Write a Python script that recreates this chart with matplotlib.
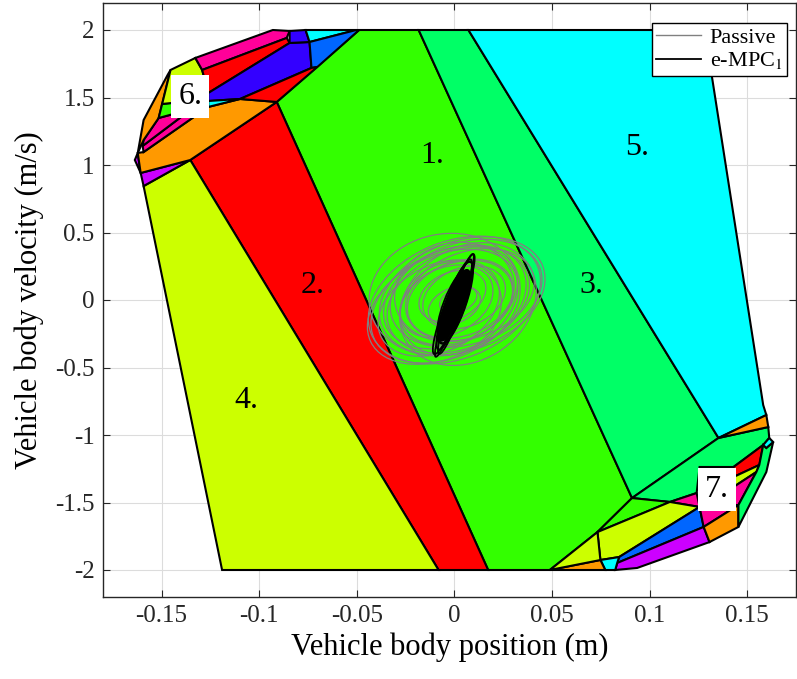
import numpy as np
import matplotlib.pyplot as plt
from matplotlib.patches import Polygon, Ellipse
from matplotlib.lines import Line2D
from matplotlib.transforms import Affine2D

plt.rcParams['font.family'] = ['Liberation Serif', 'DejaVu Serif']
plt.rcParams['mathtext.fontset'] = 'stix'
plt.rcParams['axes.unicode_minus'] = False

# Colours of the explicit-MPC regions
GREEN, SPRING, CYAN, RED = '#33ff00', '#00ff66', '#00ffff', '#ff0000'
YELLOW, ORANGE, MAGENTA = '#ccff00', '#ff9900', '#ff0099'
BLUE, AZURE, PURPLE = '#3300ff', '#0066ff', '#cc00ff'

# Region vertices (position m, velocity m/s)
region1 = [(-0.0488, 2), (-0.0183, 2), (0.0910, -1.467), (0.0733, -1.719),
           (0.0489, -2), (0.0173, -2), (-0.0910, 1.467)]
region2 = [(-0.1353, 1.037), (-0.0910, 1.467), (0.0173, -2), (-0.0081, -2)]
region3 = [(-0.0183, 2), (0.0072, 2), (0.1353, -1.022), (0.0910, -1.467)]
region4 = [(-0.1592, 0.844), (-0.1353, 1.037), (-0.0081, -2), (-0.1190, -2)]
region5 = [(0.0072, 2), (0.1282, 2), (0.1582, -0.778), (0.1598, -0.852),
           (0.1353, -1.022)]

# small regions, upper left corner
tl_purple = [(-0.1607, 0.941), (-0.1353, 1.037), (-0.1592, 0.844)]
tl_purple2 = [(-0.1637, 1.037), (-0.1622, 1.089), (-0.1607, 0.941)]
tl_orange = [(-0.1622, 1.089), (-0.1607, 0.941), (-0.1353, 1.037),
             (-0.0910, 1.467), (-0.1098, 1.489), (-0.1261, 1.430),
             (-0.1592, 1.096)]
tl_magenta_b = [(-0.1592, 1.096), (-0.1261, 1.430), (-0.1353, 1.407),
                (-0.1597, 1.141)]
tl_magenta_a = [(-0.1597, 1.141), (-0.1353, 1.407), (-0.1439, 1.378),
                (-0.1515, 1.348), (-0.1592, 1.185)]
tl_orange2 = [(-0.1622, 1.089), (-0.1592, 1.333), (-0.1469, 1.667),
              (-0.1454, 1.704), (-0.1497, 1.452), (-0.1515, 1.348),
              (-0.1592, 1.185)]
tl_green = [(-0.1497, 1.452), (-0.1444, 1.460), (-0.1439, 1.378),
            (-0.1515, 1.348)]
tl_yellow = [(-0.1454, 1.704), (-0.1327, 1.793), (-0.1292, 1.704),
             (-0.1261, 1.533), (-0.1444, 1.460), (-0.1497, 1.452)]
tl_magenta = [(-0.1327, 1.793), (-0.0930, 2), (-0.0844, 1.993),
              (-0.0859, 1.941), (-0.1292, 1.704)]
tl_red = [(-0.1292, 1.704), (-0.0859, 1.941), (-0.0844, 1.904),
          (-0.1261, 1.533)]
tl_blue = [(-0.1261, 1.533), (-0.0844, 1.904), (-0.0742, 1.911),
           (-0.0732, 1.719), (-0.1098, 1.489), (-0.1261, 1.474)]
tl_blue2 = [(-0.0844, 1.993), (-0.0762, 2), (-0.0742, 1.911),
            (-0.0844, 1.904)]
tl_cyan = [(-0.0762, 2), (-0.0503, 2), (-0.0742, 1.911)]
tl_azure = [(-0.0742, 1.911), (-0.0503, 2), (-0.0488, 2), (-0.0702, 1.726),
            (-0.0732, 1.719)]
tl_red2 = [(-0.1098, 1.489), (-0.0732, 1.719), (-0.0702, 1.726),
           (-0.0910, 1.467)]
tl_cyan2 = [(-0.1261, 1.474), (-0.1098, 1.489), (-0.1261, 1.430)]

# small regions, lower right corner
br_spring = [(0.0910, -1.467), (0.1353, -1.022), (0.1608, -0.941),
             (0.1613, -1.022), (0.1582, -1.074), (0.1430, -1.237),
             (0.1256, -1.237), (0.1241, -1.430), (0.1104, -1.496)]
br_orange = [(0.1353, -1.022), (0.1598, -0.852), (0.1608, -0.941)]
br_green = [(0.0910, -1.467), (0.1104, -1.496), (0.0733, -1.719)]
br_magenta = [(0.1104, -1.496), (0.1241, -1.430), (0.1256, -1.533)]
br_yellow = [(0.0733, -1.719), (0.1104, -1.496), (0.1256, -1.533),
             (0.0844, -1.904), (0.0748, -1.926)]
br_azure = [(0.0844, -1.904), (0.1256, -1.533), (0.1277, -1.681),
            (0.0834, -1.948)]
br_purple = [(0.0834, -1.948), (0.1277, -1.681), (0.1307, -1.793),
             (0.0936, -1.985), (0.0824, -2.0)]
br_cyan = [(0.0748, -1.926), (0.0844, -1.904), (0.0834, -1.948),
           (0.0824, -2.0), (0.0773, -2.0)]
br_orange2 = [(0.0489, -2), (0.0748, -1.926), (0.0773, -2)]
br_yellow2 = [(0.0489, -2), (0.0733, -1.719), (0.0748, -1.926)]
br_magenta2 = [(0.1256, -1.533), (0.1455, -1.519), (0.1277, -1.681)]
br_orange3 = [(0.1277, -1.681), (0.1455, -1.519), (0.1455, -1.681),
              (0.1307, -1.793)]
br_red = [(0.1430, -1.237), (0.1582, -1.074), (0.1562, -1.222),
          (0.1430, -1.311)]
br_yellow3 = [(0.1430, -1.311), (0.1562, -1.222), (0.1547, -1.274),
              (0.1430, -1.385)]
br_magenta3 = [(0.1430, -1.385), (0.1547, -1.274), (0.1455, -1.519),
               (0.1430, -1.519)]
br_spring2 = [(0.1582, -1.074), (0.1598, -1.096), (0.1633, -1.052),
              (0.1598, -1.274), (0.1455, -1.681), (0.1455, -1.519),
              (0.1547, -1.274), (0.1562, -1.222)]
br_cyan2 = [(0.1582, -1.074), (0.1613, -1.022), (0.1633, -1.052),
            (0.1598, -1.096)]

# region numbers
label_text = ['1.', '2.', '3.', '4.', '5.', '6.', '7.']
label_x = [-0.0116, -0.0727, 0.0702, -0.1063, 0.0936, -0.1353, 0.1343]
label_y = [1.074, 0.111, 0.111, -0.741, 1.126, 1.504, -1.407]
boxed = [False, False, False, False, False, True, True]

# trajectory loops: centre (m, m/s), semi axes (mm), tilt (deg)
passive_cx = [0.000, 0.004, -0.003, 0.006, -0.006, 0.002, -0.002, 0.008,
              -0.008, 0.001, 0.003, -0.004, 0.005, -0.001, 0.000, 0.002,
              -0.005, 0.007, 0.000, -0.002]
passive_cy = [0.00, 0.03, -0.03, 0.05, -0.05, 0.00, 0.02, 0.04,
              -0.06, -0.02, 0.01, -0.01, 0.02, 0.03, -0.04, 0.00,
              0.04, -0.03, 0.06, -0.06]
passive_a = [46, 44, 42, 40, 41, 38, 36, 34, 33, 30, 28, 25, 22, 18, 14, 10,
             39, 37, 31, 27]
passive_b = [30, 28, 27, 26, 26, 25, 24, 22, 22, 20, 19, 17, 15, 12, 9, 6,
             31, 29, 25, 23]
passive_ang = [22, 20, 25, 18, 26, 22, 24, 19, 27, 22, 20, 25, 22, 24, 23, 22,
               12, 32, 15, 30]

empc_cx = [0.000, 0.001, -0.001, 0.000, 0.001, 0.000, -0.001, 0.000]
empc_cy = [-0.04, -0.03, -0.05, -0.04, -0.02, -0.05, -0.03, -0.04]
empc_a = [28, 27, 26, 24, 22, 20, 18, 15]
empc_b = [3.0, 3.5, 4.0, 4.5, 5.0, 5.0, 4.5, 4.0]
empc_ang = [70, 71, 69, 70, 71, 70, 69, 70]

polys = [
    (region1, GREEN), (region2, RED), (region3, SPRING), (region4, YELLOW),
    (region5, CYAN),
    (tl_purple, PURPLE), (tl_purple2, PURPLE), (tl_orange, ORANGE),
    (tl_magenta_b, MAGENTA), (tl_magenta_a, MAGENTA), (tl_orange2, ORANGE),
    (tl_green, GREEN), (tl_yellow, YELLOW), (tl_magenta, MAGENTA),
    (tl_red, RED), (tl_blue, BLUE), (tl_blue2, BLUE), (tl_cyan, CYAN),
    (tl_azure, AZURE), (tl_red2, RED), (tl_cyan2, CYAN),
    (br_spring, SPRING), (br_orange, ORANGE), (br_green, GREEN),
    (br_magenta, MAGENTA), (br_yellow, YELLOW), (br_azure, AZURE),
    (br_purple, PURPLE), (br_cyan, CYAN), (br_orange2, ORANGE),
    (br_yellow2, YELLOW), (br_magenta2, MAGENTA), (br_orange3, ORANGE),
    (br_red, RED), (br_yellow3, YELLOW), (br_magenta3, MAGENTA),
    (br_spring2, SPRING), (br_cyan2, CYAN),
]

fig = plt.figure(figsize=(7.97, 6.79), dpi=100)
ax = fig.add_axes([103 / 797, 82 / 679, 693 / 797, 594 / 679])
ax.set_xlim(-0.18, 0.175)
ax.set_ylim(-2.2, 2.2)

for verts, col in polys:
    ax.add_patch(Polygon(verts, closed=True, facecolor=col, edgecolor='k',
                         lw=1.5, zorder=2))

# equal-length units on screen: 1 unit = 1 mm horizontally
ax_w = 693 / 0.355
ax_h = 594 / 4.4
vs = 0.001 * ax_w / ax_h
trans = Affine2D().scale(0.001, vs) + ax.transData

for cx, cy, a, b, ang in zip(passive_cx, passive_cy, passive_a, passive_b,
                             passive_ang):
    ax.add_patch(Ellipse((cx / 0.001, cy / vs), 2 * a, 2 * b, angle=ang,
                         fill=False, ec='#808080', lw=0.9, zorder=3,
                         transform=trans))

for cx, cy, a, b, ang in zip(empc_cx, empc_cy, empc_a, empc_b, empc_ang):
    ax.add_patch(Ellipse((cx / 0.001, cy / vs), 2 * a, 2 * b, angle=ang,
                         fill=False, ec='k', lw=1.3, zorder=4,
                         transform=trans))
# dense core of the e-MPC orbit
ax.add_patch(Ellipse((0, empc_cy[0] / vs), 2 * empc_a[3] * 0.8,
                     2 * empc_b[3], angle=empc_ang[0], fc='k', ec='k',
                     lw=1, zorder=4, transform=trans))

for t, x, y, bx in zip(label_text, label_x, label_y, boxed):
    kw = {}
    if bx:
        kw['bbox'] = dict(boxstyle='square,pad=0.22', fc='white', ec='none')
    ax.text(x, y, t, fontsize=23, ha='center', va='center', zorder=6, **kw)

handles = [Line2D([0], [0], color='#808080', lw=1.0),
           Line2D([0], [0], color='k', lw=1.3)]
leg = ax.legend(handles, ['Passive', 'e-MPC$_1$'], loc='upper right',
                bbox_to_anchor=(0.987, 0.966), fontsize=16, fancybox=False,
                framealpha=1, edgecolor='k', borderpad=0.2, labelspacing=0.1,
                handlelength=2.0, handletextpad=0.4, borderaxespad=0)
leg.get_frame().set_linewidth(1.0)
leg.set_zorder(7)

ax.set_xticks([-0.15, -0.1, -0.05, 0, 0.05, 0.1, 0.15])
ax.set_xticklabels(['-0.15', '-0.1', '-0.05', '0', '0.05', '0.1', '0.15'])
ax.set_yticks([-2, -1.5, -1, -0.5, 0, 0.5, 1, 1.5, 2])
ax.set_yticklabels(['-2', '-1.5', '-1', '-0.5', '0', '0.5', '1', '1.5', '2'])
ax.tick_params(direction='in', top=True, right=True, length=5,
               labelsize=18, colors='#262626', pad=6)
ax.grid(True, color='#dcdcdc', lw=0.8)
ax.set_axisbelow(True)
for s in ax.spines.values():
    s.set_color('#262626')
    s.set_linewidth(1.0)

ax.set_xlabel('Vehicle body position (m)', fontsize=22, labelpad=4)
ax.set_ylabel('Vehicle body velocity (m/s)', fontsize=22, labelpad=8)

fig.savefig('out.png', dpi=100)
